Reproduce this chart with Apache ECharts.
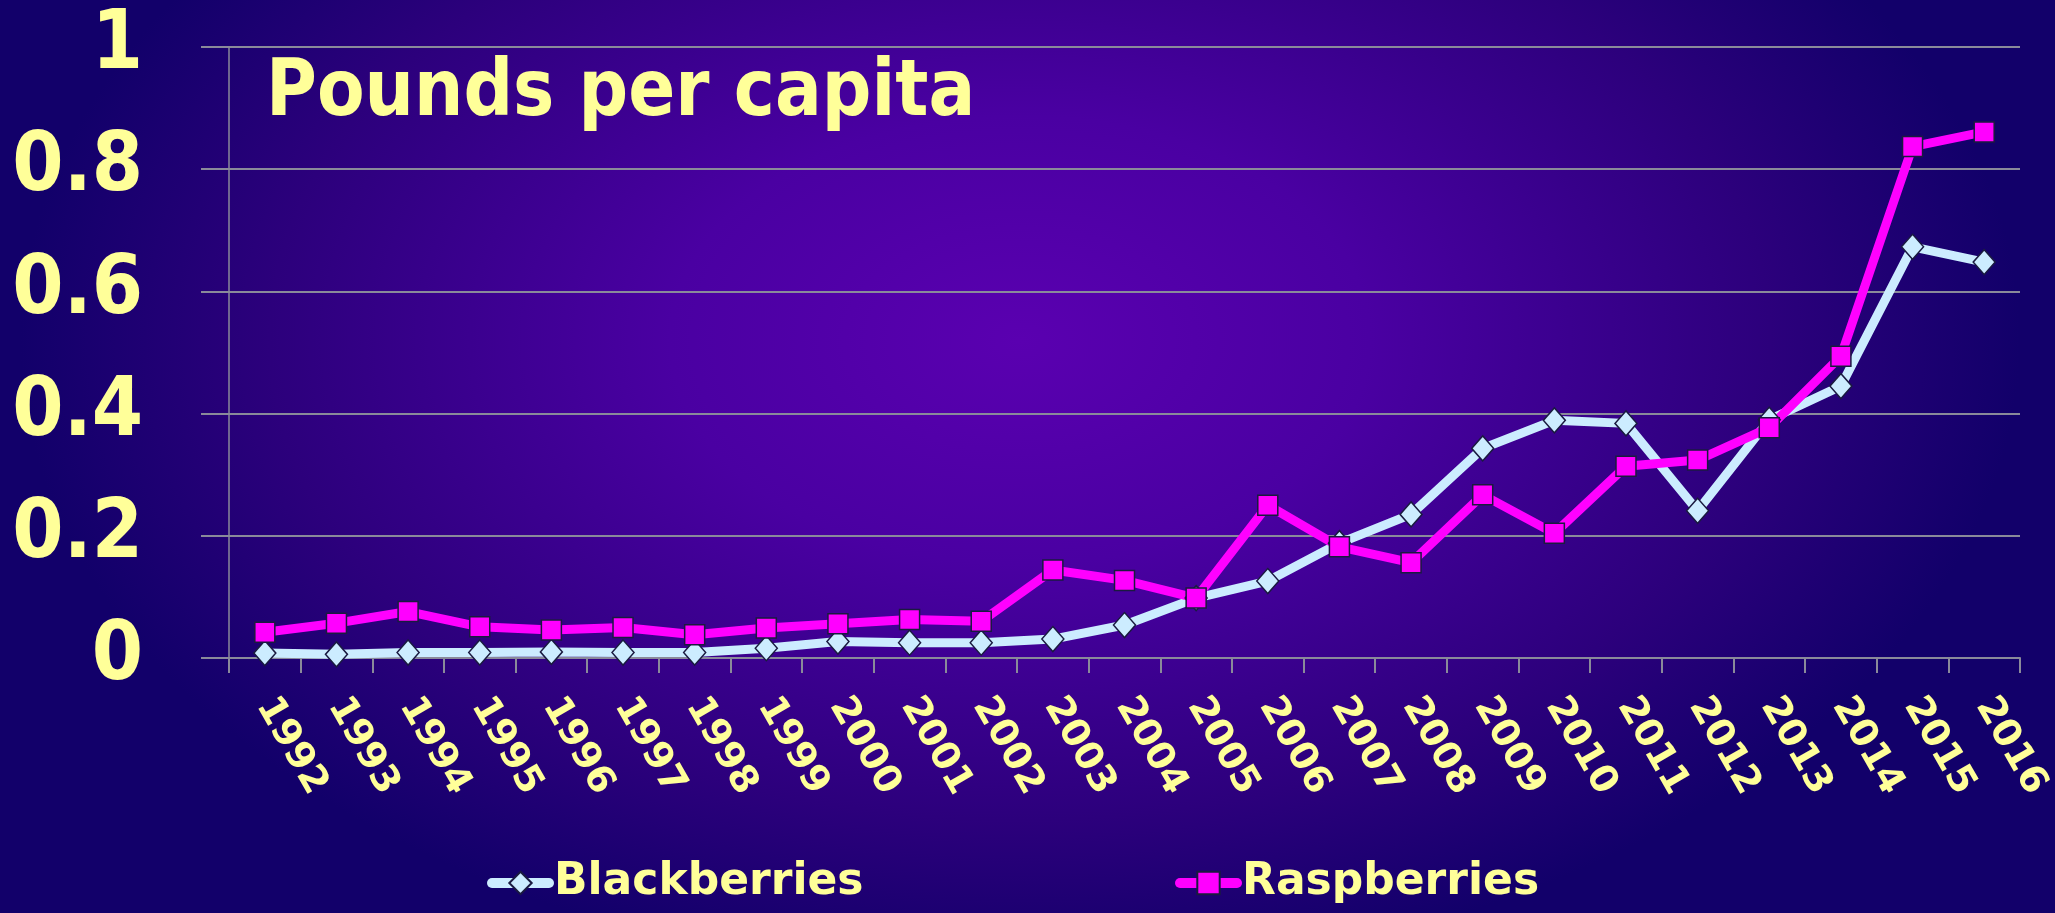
<!DOCTYPE html>
<html>
<head>
<meta charset="utf-8">
<script src="https://cdn.jsdelivr.net/npm/echarts@6/dist/echarts.min.js"></script>
<style>
html,body{margin:0;padding:0;}
#chart{width:2055px;height:913px;
background:radial-gradient(ellipse 1000px 640px at 1020px 340px,#5a00b0 0%,#4a00a2 35%,#2c007c 75%,#12006a 100%);}
</style>
</head>
<body>
<div id="chart"></div>
<script>
const years = ['1992','1993','1994','1995','1996','1997','1998','1999','2000','2001','2002','2003','2004','2005','2006','2007','2008','2009','2010','2011','2012','2013','2014','2015','2016'];
const blackberries = [0.008,0.006,0.009,0.009,0.010,0.009,0.009,0.016,0.027,0.025,0.025,0.031,0.054,0.098,0.126,0.188,0.235,0.343,0.389,0.384,0.241,0.390,0.445,0.673,0.648];
const raspberries = [0.042,0.057,0.076,0.051,0.046,0.050,0.038,0.049,0.056,0.063,0.060,0.144,0.127,0.098,0.250,0.182,0.156,0.267,0.204,0.314,0.324,0.377,0.494,0.837,0.861];
const titleText = 'Pounds per capita';

const yellow = '#FFFF99';
const gray = '#8a8a9a';
const edge = '#1a1a40';

const legendCommon = {
  top: 856, itemWidth: 57, itemHeight: 28, itemGap: 0,
  lineStyle: {width: 10, cap: 'round'},
  textStyle: {color: yellow, fontSize: 44, fontWeight: 'bold', fontFamily: 'DejaVu Sans'}
};

const chart = echarts.init(document.getElementById('chart'));
chart.setOption({
  backgroundColor: 'transparent',
  animation: false,
  grid: {left: 229, right: 34, top: 47, bottom: 255},
  graphic: [{
    type: 'text', left: 266, top: 56, scaleX: 0.89,
    style: {text: titleText, fill: yellow, font: 'bold 78px "DejaVu Sans"'}
  }],
  legend: [
    Object.assign({data: ['Blackberries'], left: 482}, legendCommon),
    Object.assign({data: ['Raspberries'], left: 1170}, legendCommon)
  ],
  xAxis: {
    type: 'category', data: years, boundaryGap: true,
    axisLine: {lineStyle: {color: gray, width: 2}},
    axisTick: {show: true, length: 15, lineStyle: {color: gray, width: 2}},
    axisLabel: {rotate: -60, margin: 42, color: yellow, fontSize: 38, fontWeight: 'bold', fontFamily: 'DejaVu Sans', interval: 0},
    splitLine: {show: false}
  },
  yAxis: {
    type: 'value', min: 0, max: 1, interval: 0.2,
    axisLine: {show: true, lineStyle: {color: gray, width: 1.5}},
    axisTick: {show: true, length: 28, lineStyle: {color: gray, width: 2}},
    axisLabel: {margin: 86, color: yellow, fontSize: 82, fontWeight: 'bold', fontFamily: '"DejaVu Sans Condensed", "DejaVu Sans"'},
    splitLine: {show: true, lineStyle: {color: gray, width: 2}}
  },
  series: [
    {name: 'Blackberries', type: 'line', data: blackberries,
     symbol: 'diamond', symbolSize: [22, 25],
     lineStyle: {color: '#CCECFF', width: 9},
     itemStyle: {color: '#CCECFF', borderColor: edge, borderWidth: 1.5}},
    {name: 'Raspberries', type: 'line', data: raspberries,
     symbol: 'rect', symbolSize: 20,
     lineStyle: {color: '#FF00FF', width: 9},
     itemStyle: {color: '#FF00FF', borderColor: edge, borderWidth: 1.5}}
  ]
});
</script>
</body>
</html>
